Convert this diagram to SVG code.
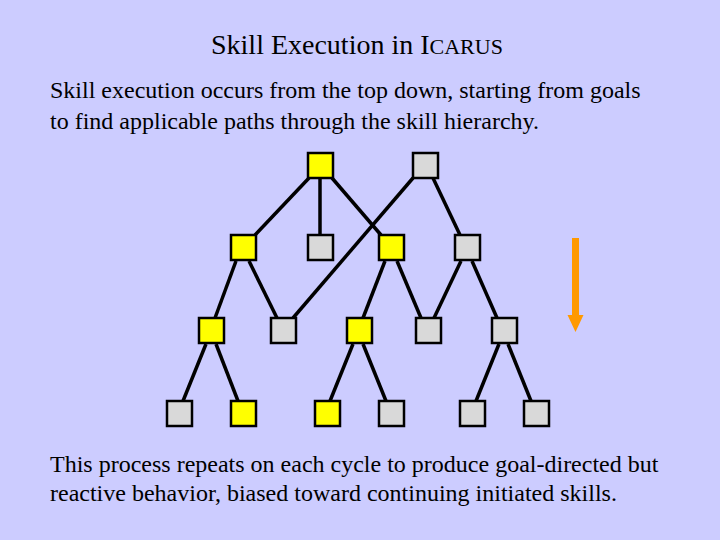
<svg xmlns="http://www.w3.org/2000/svg" width="720" height="540" viewBox="0 0 720 540">
<style>
.y{fill:#FFFF00;stroke:#000;stroke-width:2.5}
.g{fill:#D9D9D9;stroke:#000;stroke-width:2.5}
.e{stroke:#000;stroke-width:3.5;fill:none}
</style>
<rect width="720" height="540" fill="#CCCCFF"/>
<text x="211" y="54" font-family="Liberation Serif" font-size="28" fill="#000">Skill Execution in I<tspan font-size="22">CARUS</tspan></text>
<text x="50" y="98" font-family="Liberation Serif" font-size="24" fill="#000">Skill execution occurs from the top down, starting from goals</text>
<text x="50" y="129" font-family="Liberation Serif" font-size="24" fill="#000">to find applicable paths through the skill hierarchy.</text>
<text x="50" y="472" font-family="Liberation Serif" font-size="24" fill="#000">This process repeats on each cycle to produce goal-directed but</text>
<text x="50" y="501" font-family="Liberation Serif" font-size="24" fill="#000">reactive behavior, biased toward continuing initiated skills.</text>
<g id="connectors">
<line class="e" x1="309" y1="178" x2="255" y2="235"/>
<line class="e" x1="320" y1="178" x2="320" y2="235"/>
<line class="e" x1="332" y1="178" x2="381" y2="235"/>
<line class="e" x1="413" y1="178" x2="293" y2="318"/>
<line class="e" x1="433" y1="178" x2="460" y2="235"/>
<line class="e" x1="236" y1="261" x2="215" y2="318"/>
<line class="e" x1="249" y1="261" x2="277" y2="318"/>
<line class="e" x1="385" y1="261" x2="363" y2="318"/>
<line class="e" x1="397" y1="261" x2="421" y2="318"/>
<line class="e" x1="461" y1="261" x2="434" y2="318"/>
<line class="e" x1="472" y1="261" x2="497" y2="318"/>
<line class="e" x1="206" y1="344" x2="183" y2="401"/>
<line class="e" x1="216" y1="344" x2="238" y2="401"/>
<line class="e" x1="353" y1="344" x2="330" y2="401"/>
<line class="e" x1="363" y1="344" x2="386" y2="401"/>
<line class="e" x1="499" y1="344" x2="476" y2="401"/>
<line class="e" x1="508" y1="344" x2="531" y2="401"/>
</g>
<g id="n1"><rect class="y" x="308" y="153" width="25" height="25"/></g>
<g id="n2"><rect class="g" x="413" y="153" width="25" height="25"/></g>
<g id="n3"><rect class="y" x="231" y="235" width="25" height="25"/></g>
<g id="n4"><rect class="g" x="308" y="235" width="25" height="25"/></g>
<g id="n5"><rect class="y" x="379" y="235" width="25" height="25"/></g>
<g id="n6"><rect class="g" x="455" y="235" width="25" height="25"/></g>
<g id="n7"><rect class="y" x="199" y="318" width="25" height="25"/></g>
<g id="n8"><rect class="g" x="271" y="318" width="25" height="25"/></g>
<g id="n9"><rect class="y" x="347" y="318" width="25" height="25"/></g>
<g id="n10"><rect class="g" x="416" y="318" width="25" height="25"/></g>
<g id="n11"><rect class="g" x="492" y="318" width="25" height="25"/></g>
<g id="n12"><rect class="g" x="167" y="401" width="25" height="25"/></g>
<g id="n13"><rect class="y" x="231" y="401" width="25" height="25"/></g>
<g id="n14"><rect class="y" x="315" y="401" width="25" height="25"/></g>
<g id="n15"><rect class="g" x="379" y="401" width="25" height="25"/></g>
<g id="n16"><rect class="g" x="460" y="401" width="25" height="25"/></g>
<g id="n17"><rect class="g" x="524" y="401" width="25" height="25"/></g>
<g id="arrow">
<rect x="572" y="238" width="7" height="78" fill="#FF9900"/>
<polygon points="567.5,315 583.5,315 575.5,332" fill="#FF9900"/>
</g>
</svg>
